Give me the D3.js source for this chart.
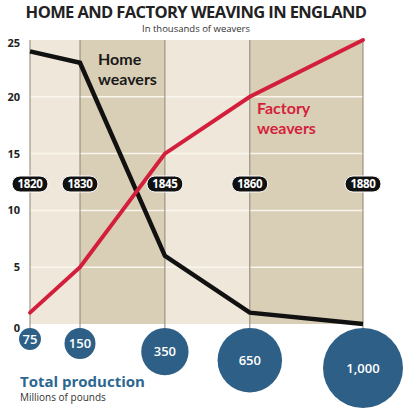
<!DOCTYPE html>
<html>
<head>
<meta charset="utf-8">
<script src="https://cdn.jsdelivr.net/npm/d3@7"></script>
<style>
  html, body { margin: 0; padding: 0; background: #fff; }
  svg { display: block; font-family: "Open Sans", "Noto Sans", sans-serif; }
</style>
</head>
<body>
<svg id="chart" width="408" height="409"></svg>
<script>
// Census years shown along the chart
const years = [1820, 1830, 1845, 1860, 1880];
// Weavers in England, thousands
const homeWeavers = [24, 23, 6, 1, 0];
const factoryWeavers = [1, 5, 15, 20, 25];
// Total cloth production, millions of pounds
const production = [75, 150, 350, 650, 1000];
const productionLabels = ["75", "150", "350", "650", "1,000"];
// Vertical axis
const yTicks = [0, 5, 10, 15, 20, 25];
const yTickLabels = ["0", "5", "10", "15", "20", "25"];
const yGridValues = [5, 10, 15, 20];

const svg = d3.select("#chart");

const x = d3.scaleLinear().domain([1820, 1830, 1880]).range([30, 80, 363]);
const y = d3.scaleLinear().domain([0, 25]).range([324, 40]);
const r = d3.scaleSqrt().domain([0, 1000]).range([0, 40]);

const bandLight = "#efe8da";
const bandDark = "#d9ceb6";

// Alternating background bands between census years
const bands = d3.pairs(years);
svg.append("g").selectAll("rect")
  .data(bands)
  .join("rect")
  .attr("x", d => x(d[0]))
  .attr("y", y(25))
  .attr("width", d => x(d[1]) - x(d[0]))
  .attr("height", y(0) - y(25))
  .attr("fill", (d, i) => i % 2 === 0 ? bandLight : bandDark);

// Horizontal gridlines
svg.append("g").selectAll("line")
  .data(yGridValues)
  .join("line")
  .attr("x1", x(1820))
  .attr("x2", x(1880))
  .attr("y1", d => y(d))
  .attr("y2", d => y(d))
  .attr("stroke", "#faf6ee")
  .attr("stroke-width", 1.5);

// Vertical year rules that drop to each production bubble
const bubbleTop = 328;
svg.append("g").selectAll("line")
  .data(years)
  .join("line")
  .attr("x1", d => x(d))
  .attr("x2", d => x(d))
  .attr("y1", y(25))
  .attr("y2", bubbleTop + 2)
  .attr("stroke", "#8c8374")
  .attr("stroke-width", 1);

// Y-axis labels
const yAxis = d3.axisLeft(y)
  .tickValues(yTicks)
  .tickFormat((d, i) => yTickLabels[i])
  .tickSize(0)
  .tickPadding(0);
const yAxisG = svg.append("g")
  .attr("transform", "translate(22,0)")
  .call(yAxis);
yAxisG.select(".domain").remove();
yAxisG.selectAll("text")
  .attr("font-family", "'Open Sans', sans-serif")
  .attr("font-size", 11)
  .attr("font-weight", "bold")
  .attr("fill", "#222")
  .attr("dy", "0.32em")
  .attr("x", -2)
  .attr("y", d => d === 0 ? 4 : (d === 25 ? 3 : 0));

// Weaver lines
const line = d3.line()
  .x((d, i) => x(years[i]))
  .y(d => y(d));

svg.append("path")
  .datum(homeWeavers)
  .attr("d", line)
  .attr("fill", "none")
  .attr("stroke", "#111")
  .attr("stroke-width", 4.5)
  .attr("stroke-linejoin", "miter");

svg.append("path")
  .datum(factoryWeavers)
  .attr("d", line)
  .attr("fill", "none")
  .attr("stroke", "#d41f3c")
  .attr("stroke-width", 4)
  .attr("stroke-linecap", "round");

// Series labels, one text per line
const labelLines = [
  { text: "Home", x: 98, y: 65, fill: "#1a1a1a" },
  { text: "weavers", x: 98, y: 84.5, fill: "#1a1a1a" },
  { text: "Factory", x: 257, y: 114, fill: "#d41f3c" },
  { text: "weavers", x: 257, y: 133.5, fill: "#d41f3c" }
];
svg.append("g").selectAll("text")
  .data(labelLines)
  .join("text")
  .attr("x", d => d.x)
  .attr("y", d => d.y)
  .attr("font-family", "Lato, sans-serif")
  .attr("font-size", 16)
  .attr("font-weight", "bold")
  .attr("fill", d => d.fill)
  .text(d => d.text);

// Year pills
const pillY = 184;
const pills = svg.append("g").selectAll("g")
  .data(years)
  .join("g")
  .attr("transform", d => `translate(${x(d)},${pillY})`);
pills.append("rect")
  .attr("x", -18)
  .attr("y", -8)
  .attr("width", 36)
  .attr("height", 16)
  .attr("rx", 8)
  .attr("fill", "#111")
  .attr("stroke", "#fff")
  .attr("stroke-width", 1);
pills.append("text")
  .attr("text-anchor", "middle")
  .attr("dy", "0.35em")
  .attr("font-size", 11.5)
  .attr("font-weight", "bold")
  .attr("fill", "#fff")
  .attr("letter-spacing", -0.3)
  .text(d => d);

// Production bubbles
const bubbles = svg.append("g").selectAll("g")
  .data(production)
  .join("g")
  .attr("transform", (d, i) => `translate(${x(years[i])},${bubbleTop + r(d)})`);
bubbles.append("circle")
  .attr("r", d => r(d))
  .attr("fill", "#2e5f86");
bubbles.append("text")
  .attr("text-anchor", "middle")
  .attr("dy", "0.35em")
  .attr("font-size", 13)
  .attr("font-weight", 600)
  .attr("fill", "#fff")
  .text((d, i) => productionLabels[i]);

// Titles
svg.append("text")
  .attr("x", 196)
  .attr("y", 18)
  .attr("text-anchor", "middle")
  .attr("font-size", 16.5)
  .attr("font-weight", "bold")
  .attr("letter-spacing", -0.6)
  .attr("fill", "#222")
  .text("HOME AND FACTORY WEAVING IN ENGLAND");

svg.append("text")
  .attr("x", 196)
  .attr("y", 32)
  .attr("text-anchor", "middle")
  .attr("font-size", 9.5)
  .attr("fill", "#333")
  .text("In thousands of weavers");

svg.append("text")
  .attr("x", 20)
  .attr("y", 387)
  .attr("font-size", 15)
  .attr("font-weight", "bold")
  .attr("fill", "#2c6790")
  .text("Total production");

svg.append("text")
  .attr("x", 20)
  .attr("y", 401)
  .attr("font-size", 10)
  .attr("fill", "#333")
  .text("Millions of pounds");
</script>
</body>
</html>
